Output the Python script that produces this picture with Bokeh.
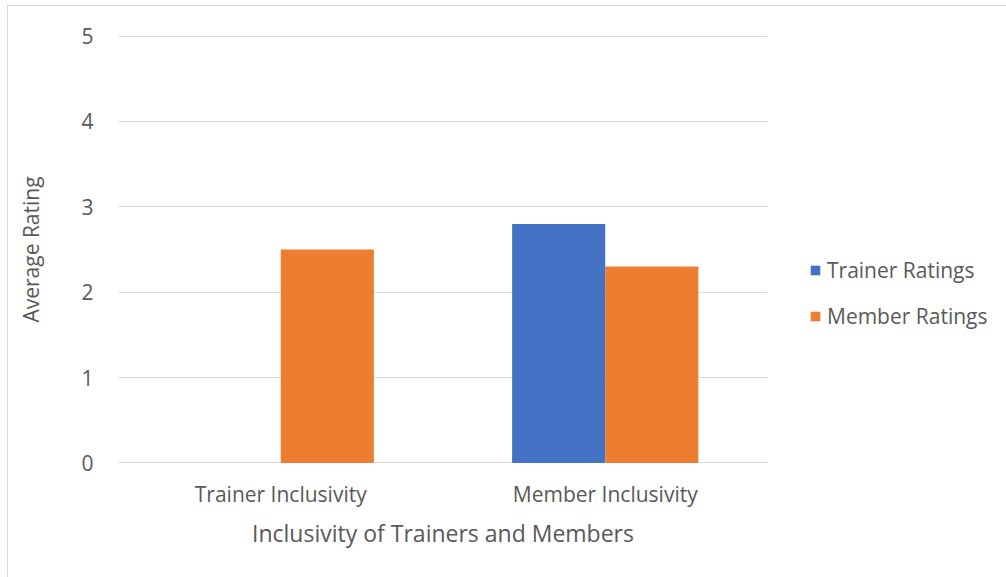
from bokeh.plotting import figure
from bokeh.models import Legend, LegendItem, FactorRange, Range1d, ColumnDataSource
from bokeh.transform import dodge
from bokeh.embed import file_html
from bokeh.resources import INLINE

categories = ["Trainer Inclusivity", "Member Inclusivity"]
trainer_ratings = [0.0, 2.8]
member_ratings = [2.5, 2.3]
y_ticks = [0, 1, 2, 3, 4, 5]

src = ColumnDataSource(dict(cat=categories, trainer=trainer_ratings, member=member_ratings))

FONT = "Open Sans"
GRAY = "#595959"

p = figure(x_range=FactorRange(*categories), y_range=Range1d(-0.006, 5.006),
           frame_width=649, frame_height=428, output_backend="svg", toolbar_location=None,
           min_border_left=110, min_border_right=0, min_border_top=29, min_border_bottom=115)
p.styles = {"border": "1px solid #d9d9d9", "box-sizing": "border-box"}
p.margin = (5, 0, 0, 7)
p.outline_line_color = None
p.background_fill_color = "white"
p.border_fill_color = "white"

bw = 0.287
r1 = p.vbar(x=dodge("cat", -bw / 2, range=p.x_range), top="trainer", width=bw, source=src,
            fill_color="#4472C4", line_color=None)
r2 = p.vbar(x=dodge("cat", bw / 2, range=p.x_range), top="member", width=bw, source=src,
            fill_color="#ED7D31", line_color=None)

p.xgrid.grid_line_color = None
p.ygrid.grid_line_color = "#d9d9d9"
p.ygrid.grid_line_width = 1
p.yaxis.ticker = y_ticks

for ax in (p.xaxis[0], p.yaxis[0]):
    ax.axis_line_color = None
    ax.major_tick_line_color = None
    ax.minor_tick_line_color = None
    ax.major_tick_out = 0
    ax.major_tick_in = 0
    ax.major_label_text_font = FONT
    ax.major_label_text_color = GRAY
    ax.major_label_text_font_size = "21px"
    ax.axis_label_text_font = FONT
    ax.axis_label_text_color = GRAY
    ax.axis_label_text_font_style = "normal"

p.yaxis.axis_label = "Average Rating"
p.yaxis.axis_label_text_font_size = "21px"
p.yaxis.major_label_standoff = 25
p.yaxis.axis_label_standoff = 33
p.xaxis.axis_label = "Inclusivity of Trainers and Members"
p.xaxis.axis_label_text_font_size = "23px"
p.xaxis.major_label_standoff = 16
p.xaxis.axis_label_standoff = 6

legend = Legend(items=[LegendItem(label="Trainer Ratings", renderers=[r1]),
                       LegendItem(label="Member Ratings", renderers=[r2])],
                location=(42, 133), orientation="vertical",
                padding=0, margin=0, spacing=18, glyph_width=12, glyph_height=12,
                label_height=20, label_standoff=6,
                label_text_font=FONT, label_text_color=GRAY, label_text_font_size="21px",
                border_line_color=None, background_fill_alpha=0)
p.add_layout(legend, "right")

open("out.html", "w").write(file_html(p, INLINE))
